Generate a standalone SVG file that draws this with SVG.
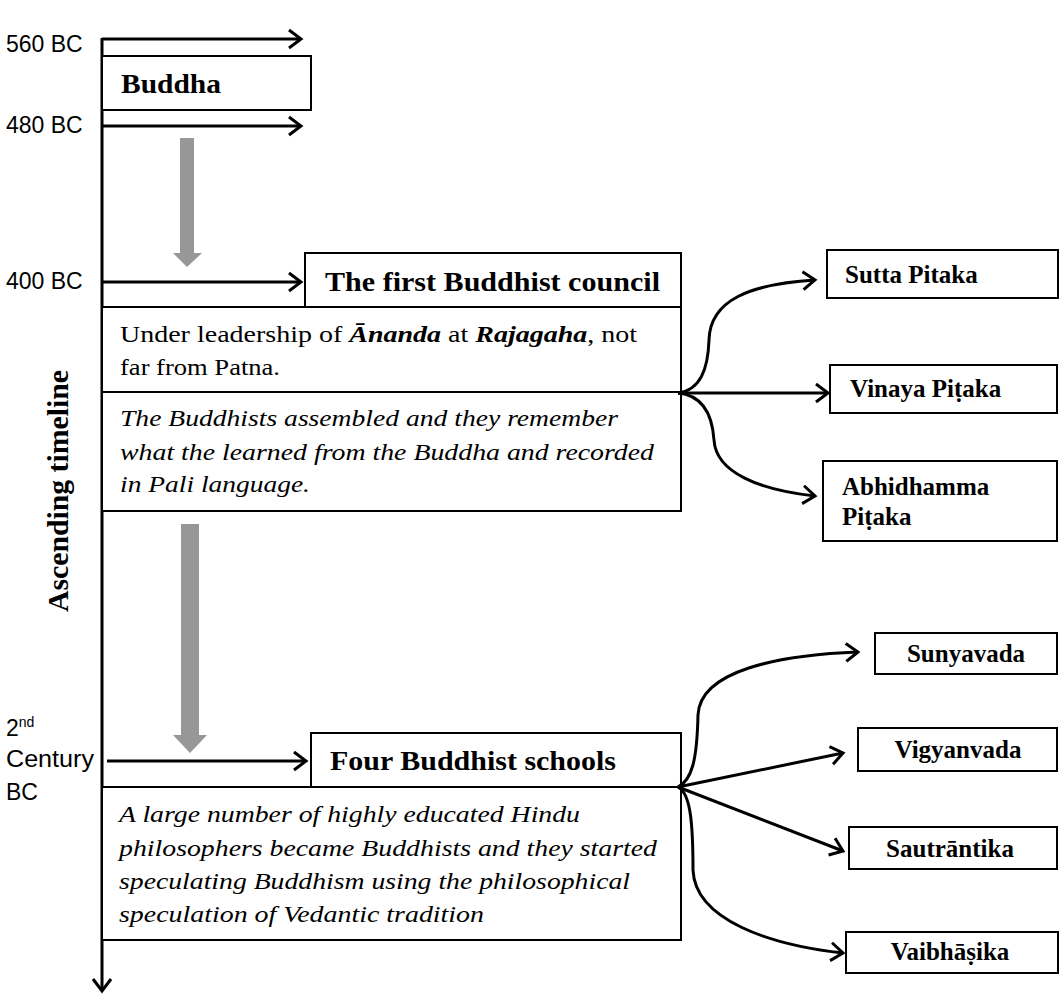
<svg xmlns="http://www.w3.org/2000/svg" width="1062" height="996" viewBox="0 0 1062 996">
<style>
.box{fill:#fff;stroke:#000;stroke-width:2}
.ln{fill:none;stroke:#000;stroke-width:3}
.grey{fill:#979797}
.lbl{font-family:"Liberation Sans",Arial,sans-serif;font-size:23px;fill:#000}
.hd{font-family:"Liberation Serif","Times New Roman",serif;font-weight:bold;font-size:28px;fill:#000}
.sm{font-family:"Liberation Serif","Times New Roman",serif;font-weight:bold;font-size:25px;fill:#000}
.body{font-family:"Liberation Serif","Times New Roman",serif;font-size:23px;fill:#000}
.it{font-family:"Liberation Serif","Times New Roman",serif;font-style:italic;font-size:23px;fill:#000}
</style>
<defs>
<marker id="ah" markerWidth="20" markerHeight="24" viewBox="-14 -12 16 24" refX="0" refY="0" orient="auto" markerUnits="userSpaceOnUse">
<path d="M-12,-9 L0,0 L-12,9" fill="none" stroke="#000" stroke-width="3"/>
</marker>
</defs>

<g id="timeline">
<line class="ln" x1="102" y1="38" x2="102" y2="991" marker-end="url(#ah)"/>
<text class="hd" transform="translate(68,612) rotate(-90)" style="font-size:30px" textLength="242" lengthAdjust="spacingAndGlyphs">Ascending timeline</text>
</g>

<g id="labels">
<text class="lbl" x="6" y="52">560 BC</text>
<text class="lbl" x="6" y="133">480 BC</text>
<text class="lbl" x="6" y="289">400 BC</text>
<text class="lbl" x="6" y="736">2<tspan font-size="14" dy="-9">nd</tspan></text>
<text class="lbl" x="6" y="767" textLength="88" lengthAdjust="spacingAndGlyphs">Century</text>
<text class="lbl" x="6" y="800">BC</text>
</g>

<g id="node-buddha">
<rect class="box" x="102" y="56" width="209" height="54"/>
<text class="hd" x="121" y="93" textLength="100" lengthAdjust="spacingAndGlyphs">Buddha</text>
</g>

<g id="grey-arrows">
<path class="grey" d="M180,138 H194 V253 H202 L187,267 L173,253 H180 Z"/>
<path class="grey" d="M181,524 H199 V735 H207 L190,753 L173,735 H181 Z"/>
</g>

<g id="node-council">
<rect class="box" x="102" y="307" width="579" height="204"/>
<line x1="102" y1="392" x2="681" y2="392" stroke="#000" stroke-width="2"/>
<rect class="box" x="305" y="253" width="376" height="54"/>
<text class="hd" x="325" y="291" textLength="335" lengthAdjust="spacingAndGlyphs">The first Buddhist council</text>
<text class="body" x="120" y="342" textLength="517" lengthAdjust="spacingAndGlyphs">Under leadership of <tspan font-weight="bold" font-style="italic">Ānanda</tspan> at  <tspan font-weight="bold" font-style="italic">Rajagaha</tspan>, not</text>
<text class="body" x="120" y="375" textLength="160" lengthAdjust="spacingAndGlyphs">far from Patna.</text>
<text class="it" x="120" y="426" textLength="498" lengthAdjust="spacingAndGlyphs">The Buddhists assembled and they remember</text>
<text class="it" x="120" y="460" textLength="534" lengthAdjust="spacingAndGlyphs">what the learned from the Buddha and recorded</text>
<text class="it" x="120" y="492" textLength="190" lengthAdjust="spacingAndGlyphs">in Pali language.</text>
</g>

<g id="node-sutta">
<rect class="box" x="827" y="250" width="231" height="48"/>
<text class="sm" x="845" y="283">Sutta Pitaka</text>
</g>
<g id="node-vinaya">
<rect class="box" x="830" y="365" width="227" height="48"/>
<text class="sm" x="850" y="397">Vinaya Piṭaka</text>
</g>
<g id="node-abhidhamma">
<rect class="box" x="823" y="461" width="234" height="80"/>
<text class="sm" x="842" y="495">Abhidhamma</text>
<text class="sm" x="842" y="525">Piṭaka</text>
</g>

<g id="node-schools">
<rect class="box" x="102" y="787" width="579" height="153"/>
<rect class="box" x="311" y="733" width="370" height="54"/>
<text class="hd" x="330" y="770" textLength="286" lengthAdjust="spacingAndGlyphs">Four Buddhist schools</text>
<text class="it" x="119" y="822" textLength="461" lengthAdjust="spacingAndGlyphs">A large number of highly educated Hindu</text>
<text class="it" x="119" y="856" textLength="538" lengthAdjust="spacingAndGlyphs">philosophers became Buddhists and they started</text>
<text class="it" x="119" y="889" textLength="511" lengthAdjust="spacingAndGlyphs">speculating Buddhism using the philosophical</text>
<text class="it" x="119" y="922" textLength="365" lengthAdjust="spacingAndGlyphs">speculation of Vedantic tradition</text>
</g>

<g id="node-sunyavada">
<rect class="box" x="875" y="633" width="182" height="41"/>
<text class="sm" x="966" y="662" text-anchor="middle">Sunyavada</text>
</g>
<g id="node-vigyanvada">
<rect class="box" x="858" y="728" width="199" height="43"/>
<text class="sm" x="958" y="758" text-anchor="middle">Vigyanvada</text>
</g>
<g id="node-sautrantika">
<rect class="box" x="849" y="827" width="208" height="42"/>
<text class="sm" x="950" y="857" text-anchor="middle">Sautrāntika</text>
</g>
<g id="node-vaibhasika">
<rect class="box" x="846" y="932" width="212" height="41"/>
<text class="sm" x="950" y="960" text-anchor="middle">Vaibhāṣika</text>
</g>

<g id="connectors">
<line class="ln" x1="102" y1="39" x2="301" y2="39" marker-end="url(#ah)"/>
<line class="ln" x1="102" y1="126" x2="301" y2="126" marker-end="url(#ah)"/>
<line class="ln" x1="102" y1="282" x2="301" y2="282" marker-end="url(#ah)"/>
<line class="ln" x1="107" y1="761" x2="306" y2="761" marker-end="url(#ah)"/>
<path class="ln" d="M678,393 C700,390 708,370 709,340 C710,300 750,284 815,280" marker-end="url(#ah)"/>
<path class="ln" d="M678,393 L828,393" marker-end="url(#ah)"/>
<path class="ln" d="M678,393 C700,395 712,410 714,440 C716,473 760,490 815,496" marker-end="url(#ah)"/>
<path class="ln" d="M678,787 C692,780 697,760 698,715 C700,670 780,655 858,652" marker-end="url(#ah)"/>
<path class="ln" d="M678,787 L843,753" marker-end="url(#ah)"/>
<path class="ln" d="M678,787 L843,851" marker-end="url(#ah)"/>
<path class="ln" d="M678,787 C690,793 693,820 693,870 C695,920 770,945 843,953" marker-end="url(#ah)"/>
</g>
</svg>
